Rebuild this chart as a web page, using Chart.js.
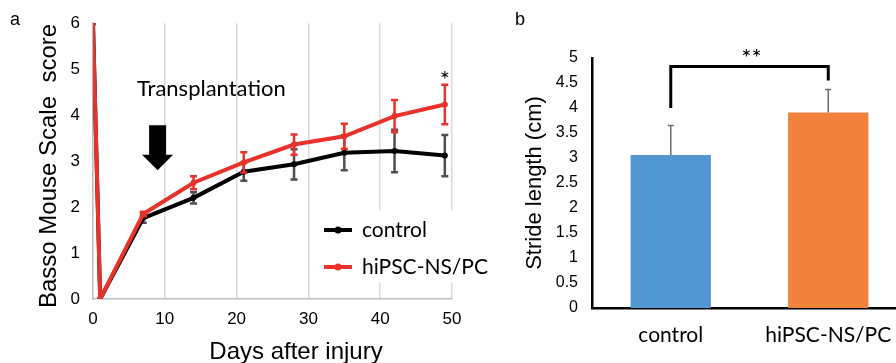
<!DOCTYPE html>
<html>
<head>
<meta charset="utf-8">
<script src="https://cdn.jsdelivr.net/npm/chart.js@4.4.1/dist/chart.umd.min.js"></script>
<style>
  html, body { margin: 0; padding: 0; background: #fff; }
  #wrap { position: relative; width: 896px; height: 363px; overflow: hidden; }
  #wrap canvas { position: absolute; top: 0; }
</style>
</head>
<body>
<div id="wrap">
  <canvas id="bms" width="500" height="363" style="left:0"></canvas>
  <canvas id="stride" width="410" height="363" style="left:500px"></canvas>
</div>
<script>
// panel a: Basso Mouse Scale over time
const days = [0, 1, 7, 14, 21, 28, 35, 42, 49];
const controlScore = [6, 0, 1.76, 2.2, 2.77, 2.93, 3.18, 3.22, 3.12];
const controlErr = [0, 0, 0.1, 0.12, 0.2, 0.33, 0.38, 0.46, 0.45];
const graftScore = [6, 0, 1.85, 2.53, 2.97, 3.36, 3.54, 3.98, 4.23];
const graftErr = [0, 0, 0.05, 0.14, 0.22, 0.22, 0.27, 0.35, 0.43];
const dayTicks = [0, 10, 20, 30, 40, 50];
const scoreTicks = [0, 1, 2, 3, 4, 5, 6];

// panel b: stride length
const groups = ['control', 'hiPSC-NS/PC'];
const strideMean = [3.06, 3.91];
const strideErr = [0.59, 0.46];
const strideTicks = [0, 0.5, 1, 1.5, 2, 2.5, 3, 3.5, 4, 4.5, 5];

const RED = '#e8322b';
const ARIAL = 'Liberation Sans, Arial, sans-serif';
const CALIBRI = 'Lato, Carlito, sans-serif';

function drawErrorBars(chart, index, upperOnly) {
    const ds = chart.data.datasets[index];
    if (!ds.errors) return;
    const meta = chart.getDatasetMeta(index);
    const yScale = chart.scales[meta.yAxisID];
    const ctx = chart.ctx;
    ctx.save();
    ctx.strokeStyle = ds.errorColor;
    ctx.lineWidth = ds.errorWidth;
    meta.data.forEach((el, i) => {
        const err = ds.errors[i];
        if (!err) return;
        const v = meta.controller.getParsed(i).y;
        const top = yScale.getPixelForValue(v + err);
        const bot = upperOnly ? el.y : yScale.getPixelForValue(v - err);
        const cap = ds.errorCap;
        ctx.beginPath();
        ctx.moveTo(el.x, top);
        ctx.lineTo(el.x, bot);
        ctx.moveTo(el.x - cap, top);
        ctx.lineTo(el.x + cap, top);
        if (!upperOnly) {
            ctx.moveTo(el.x - cap, bot);
            ctx.lineTo(el.x + cap, bot);
        }
        ctx.stroke();
    });
    ctx.restore();
}

// error bars go under the line in panel a, over the bars in panel b
const errorBarPlugin = {
    id: 'errorBars',
    beforeDatasetDraw(chart, args, opts) {
        if (!opts.upperOnly) drawErrorBars(chart, args.index, false);
    },
    afterDatasetDraw(chart, args, opts) {
        if (opts.upperOnly) drawErrorBars(chart, args.index, true);
    }
};

function text(ctx, str, x, y, font, align, rotate) {
    ctx.save();
    ctx.font = font;
    ctx.fillStyle = '#000';
    ctx.textAlign = align || 'center';
    ctx.textBaseline = 'middle';
    ctx.translate(x, y);
    if (rotate) ctx.rotate(-Math.PI / 2);
    ctx.fillText(str, 0, 0);
    ctx.restore();
}

const bmsDecor = {
    id: 'bmsDecor',
    afterDraw(chart) {
        const { ctx, scales: { x, y } } = chart;

        text(ctx, 'a', 15, 20, '18px ' + ARIAL);
        text(ctx, 'Basso Mouse Scale  score', 49, 166, '24px ' + ARIAL, 'center', true);
        text(ctx, 'Days after injury', 296, 352, '24px ' + ARIAL);

        // transplantation marker
        text(ctx, 'Transplantation', 137, 89, '22px ' + CALIBRI, 'left');
        const ax = x.getPixelForValue(9);
        const aTop = y.getPixelForValue(3.78);
        const aNeck = y.getPixelForValue(3.14);
        const aTip = y.getPixelForValue(2.8);
        ctx.save();
        ctx.fillStyle = '#000';
        ctx.beginPath();
        ctx.moveTo(ax - 8.5, aTop);
        ctx.lineTo(ax + 8.5, aTop);
        ctx.lineTo(ax + 8.5, aNeck);
        ctx.lineTo(ax + 15.5, aNeck);
        ctx.lineTo(ax, aTip);
        ctx.lineTo(ax - 15.5, aNeck);
        ctx.lineTo(ax - 8.5, aNeck);
        ctx.closePath();
        ctx.fill();
        ctx.restore();

        // significance at day 49
        text(ctx, '*', x.getPixelForValue(49), y.getPixelForValue(4.75), '24px ' + CALIBRI);

        // legend inside the plot
        ctx.save();
        ctx.fillStyle = '#fff';
        ctx.fillRect(316, 210, 146, 73);
        chart.data.datasets.forEach((ds, i) => {
            const ry = 230 + i * 37;
            ctx.strokeStyle = ds.borderColor;
            ctx.lineWidth = 4;
            ctx.beginPath();
            ctx.moveTo(324, ry);
            ctx.lineTo(352, ry);
            ctx.stroke();
            ctx.fillStyle = ds.borderColor;
            ctx.beginPath();
            ctx.arc(338, ry, 3.5, 0, Math.PI * 2);
            ctx.fill();
            text(ctx, ds.label, 362, ry, '21px ' + CALIBRI, 'left');
        });
        ctx.restore();
    }
};

const strideDecor = {
    id: 'strideDecor',
    afterDraw(chart) {
        const { ctx, scales: { x, y } } = chart;
        text(ctx, 'b', 20, 20, '18px ' + ARIAL);

        const x1 = x.getPixelForValue(0);
        const x2 = x.getPixelForValue(1);
        const top = y.getPixelForValue(4.83);
        ctx.save();
        ctx.strokeStyle = '#000';
        ctx.lineWidth = 3;
        ctx.beginPath();
        ctx.moveTo(x1, y.getPixelForValue(4.0));
        ctx.lineTo(x1, top);
        ctx.lineTo(x2, top);
        ctx.lineTo(x2, y.getPixelForValue(4.55));
        ctx.stroke();
        ctx.restore();
        text(ctx, '**', (x1 + x2) / 2 + 2, y.getPixelForValue(5.0), '24px ' + CALIBRI);
    }
};

function buildBms() {
    const toPoints = vals => days.map((d, i) => ({ x: d, y: vals[i] }));
    new Chart(document.getElementById('bms'), {
        type: 'line',
        data: {
            datasets: [{
                label: 'control',
                data: toPoints(controlScore),
                errors: controlErr,
                borderColor: '#000',
                backgroundColor: '#000',
                borderWidth: 4,
                pointRadius: 3,
                pointBorderWidth: 0,
                errorColor: 'rgba(70,70,70,0.95)',
                errorWidth: 2.5,
                errorCap: 3.5,
                order: 1
            }, {
                label: 'hiPSC-NS/PC',
                data: toPoints(graftScore),
                errors: graftErr,
                borderColor: RED,
                backgroundColor: RED,
                borderWidth: 4,
                pointRadius: 3,
                pointBorderWidth: 0,
                errorColor: RED,
                errorWidth: 2.5,
                errorCap: 3.5,
                order: 0
            }]
        },
        options: {
            responsive: false,
            animation: false,
            layout: { padding: { top: 23, right: 48, left: 0, bottom: 0 } },
            plugins: {
                legend: { display: false },
                tooltip: { enabled: false },
                errorBars: { upperOnly: false }
            },
            scales: {
                x: {
                    type: 'linear',
                    min: 0,
                    max: 50,
                    afterBuildTicks: s => { s.ticks = dayTicks.map(v => ({ value: v })); },
                    ticks: { font: { family: ARIAL, size: 17 }, color: '#000', padding: 10 },
                    grid: { color: '#d9d9d9', lineWidth: 1.5, drawTicks: false },
                    border: { color: '#bfbfbf', width: 1.5 },
                    afterFit: s => { s.height = 64; }
                },
                y: {
                    min: 0,
                    max: 6,
                    afterBuildTicks: s => { s.ticks = scoreTicks.map(v => ({ value: v })); },
                    ticks: { font: { family: ARIAL, size: 17 }, color: '#000', padding: 13 },
                    grid: { display: false, drawTicks: false },
                    border: { color: '#bfbfbf', width: 1.5 },
                    afterFit: s => { s.width = 93; }
                }
            }
        },
        plugins: [errorBarPlugin, bmsDecor]
    });
}

function buildStride() {
    new Chart(document.getElementById('stride'), {
        type: 'bar',
        data: {
            labels: groups,
            datasets: [{
                data: strideMean,
                errors: strideErr,
                backgroundColor: ['#5296d3', '#f0823c'],
                barPercentage: 0.51,
                categoryPercentage: 1,
                errorColor: '#6b6b6b',
                errorWidth: 1.5,
                errorCap: 3
            }]
        },
        options: {
            responsive: false,
            animation: false,
            layout: { padding: { top: 58, right: 3, left: 0, bottom: 0 } },
            plugins: {
                legend: { display: false },
                tooltip: { enabled: false },
                errorBars: { upperOnly: true }
            },
            scales: {
                x: {
                    grid: { display: false, drawTicks: false },
                    border: { color: '#000', width: 2.5 },
                    ticks: { font: { family: CALIBRI, size: 21 }, color: '#000', padding: 15 },
                    afterFit: s => { s.height = 55; }
                },
                y: {
                    min: 0,
                    max: 5,
                    afterBuildTicks: s => { s.ticks = strideTicks.map(v => ({ value: v })); },
                    ticks: { font: { family: ARIAL, size: 16 }, color: '#000', padding: 14, callback: v => String(v) },
                    grid: { display: false, drawTicks: false },
                    border: { color: '#000', width: 2.5 },
                    title: {
                        display: true,
                        text: 'Stride length (cm)',
                        font: { family: ARIAL, size: 22 },
                        color: '#000',
                        padding: { top: 22, bottom: 0 }
                    },
                    afterFit: s => { s.width = 92; }
                }
            }
        },
        plugins: [errorBarPlugin, strideDecor]
    });
}

Promise.all([
    document.fonts.load('22px Lato'),
    document.fonts.load('17px "Liberation Sans"')
]).catch(() => {}).then(() => {
    buildBms();
    buildStride();
});
</script>
</body>
</html>
